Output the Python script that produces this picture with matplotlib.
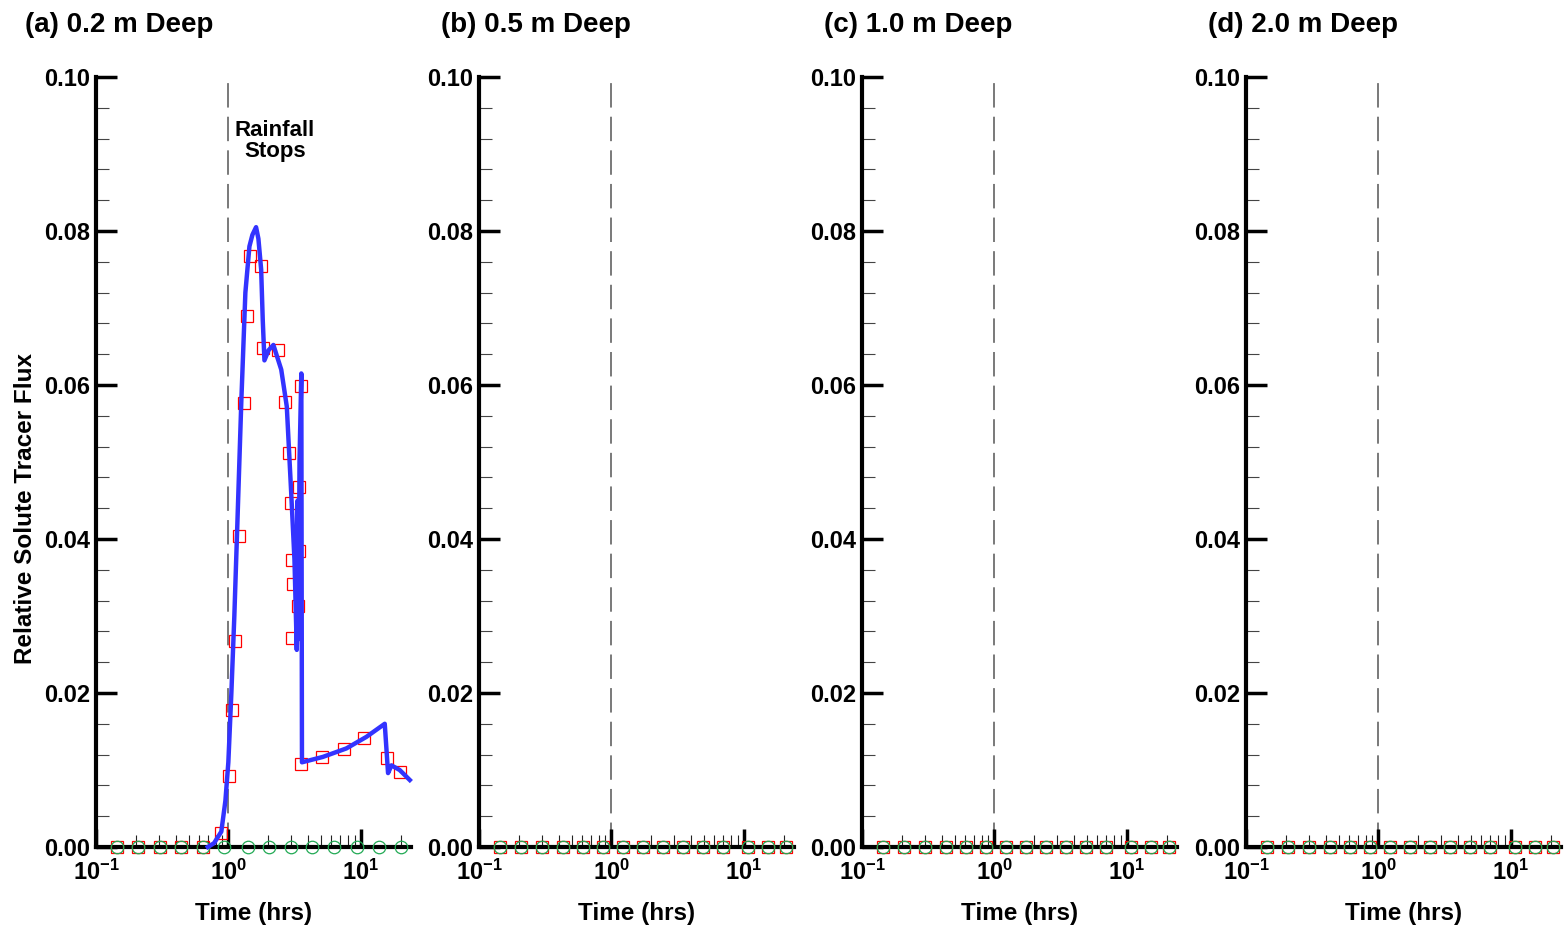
import numpy as np
import matplotlib
matplotlib.use("Agg")
import matplotlib.pyplot as plt
from matplotlib.ticker import FixedLocator, FixedFormatter, MultipleLocator

plt.rcParams['font.family'] = ['Liberation Sans', 'DejaVu Sans']
plt.rcParams['font.weight'] = 'bold'
plt.rcParams['mathtext.fontset'] = 'custom'
plt.rcParams['mathtext.bf'] = 'Liberation Sans:bold'
plt.rcParams['mathtext.rm'] = 'Liberation Sans:bold'

# titulos dos paineis
titles = ['(a) 0.2 m Deep', '(b) 0.5 m Deep', '(c) 1.0 m Deep', '(d) 2.0 m Deep']

# curva simulada (painel a)
t_line = [0.70, 0.78, 0.885, 0.95, 1.0, 1.054, 1.11, 1.17, 1.254, 1.345, 1.443, 1.52,
          1.62, 1.687, 1.77, 1.82, 1.874, 2.01, 2.19, 2.51, 2.765, 2.985, 3.16, 3.29,
          3.34, 3.39, 3.45, 3.56, 3.60, 5.18, 7.79, 11.04, 15.2, 16.1, 17.1, 19.7, 23.5]
v_line = [0.0, 0.0005, 0.002, 0.006, 0.011, 0.02, 0.03, 0.042, 0.058, 0.072, 0.078, 0.0795,
          0.0805, 0.079, 0.075, 0.0684, 0.0632, 0.0645, 0.0652, 0.062, 0.0572, 0.046, 0.0373,
          0.0256, 0.045, 0.027, 0.05, 0.0615, 0.011, 0.0117, 0.0128, 0.0143, 0.016, 0.0096,
          0.0106, 0.010, 0.0087]

# quadrados vermelhos (painel a)
t_sq_a = [0.1435, 0.208, 0.302, 0.44, 0.64, 0.88, 1.005, 1.06, 1.116, 1.197, 1.306, 1.385,
          1.468, 1.77, 1.82, 2.36, 2.70, 2.86, 2.985, 3.41, 3.56, 3.41, 3.02, 3.10, 3.35,
          3.04, 3.56, 5.09, 7.43, 10.6, 15.7, 19.7]
v_sq_a = [0.0, 0.0, 0.0, 0.0, 0.0, 0.0018, 0.0092, 0.0178, 0.0268, 0.0404, 0.0576, 0.069,
          0.0768, 0.0754, 0.0648, 0.0645, 0.0578, 0.0512, 0.0447, 0.0467, 0.0599, 0.0385,
          0.0373, 0.0341, 0.0313, 0.0272, 0.0108, 0.0117, 0.0127, 0.0142, 0.0116, 0.0098]

# circulos verdes (painel a)
t_circ_a = [0.1435, 0.208, 0.302, 0.44, 0.64, 0.92, 1.4, 2.04, 2.96, 4.3, 6.3, 9.4, 13.8, 20.0]
v_circ_a = [0.0] * len(t_circ_a)

# paineis b-d: tudo zero
t_zero = [0.1435, 0.209, 0.30, 0.432, 0.607, 0.86, 1.22, 1.73, 2.45, 3.47, 4.9, 7.0,
          10.7, 15.2, 21.0]
v_zero = [0.0] * len(t_zero)

fig = plt.figure(figsize=(15.66, 9.3), dpi=100)
lefts = [96, 479, 862, 1246]
W, H = 1566, 930
axes = []
for i in range(4):
    ax = fig.add_axes([lefts[i] / W, 1 - 847 / H, 315 / W, 770 / H])
    axes.append(ax)

    ax.set_xscale('log')
    ax.set_xlim(0.1, 24)
    ax.set_ylim(0, 0.10)

    ax.axvline(1.0, ymin=0, ymax=1, color='#555555', lw=1.1, dashes=(16, 6), zorder=1)

    if i == 0:
        ax.plot(t_sq_a, v_sq_a, 's', mfc='none', mec='red', ms=9, mew=0.9, clip_on=False, zorder=3)
        ax.plot(t_circ_a, v_circ_a, 'o', mfc='none', mec='#22aa55', ms=9, mew=0.9, clip_on=False, zorder=3)
        ax.plot(t_line, v_line, color='#3333ff', lw=3.2, zorder=4, clip_on=False)
        ax.text(2.25, 0.0917, 'Rainfall\nStops', ha='center', va='center', fontsize=16,
                fontweight='bold', linespacing=1.0)
        ax.set_ylabel('Relative Solute Tracer Flux', fontsize=17.5, fontweight='bold', va='center')
        ax.yaxis.set_label_coords(-0.225, 0.44)
    else:
        ax.plot(t_zero, v_zero, 's', mfc='none', mec='red', ms=9, mew=0.9, clip_on=False, zorder=3)
        ax.plot(t_zero, v_zero, 'o', mfc='none', mec='#22aa55', ms=9, mew=0.9, clip_on=False, zorder=3)

    for s in ['top', 'right']:
        ax.spines[s].set_visible(False)
    for s in ['left', 'bottom']:
        ax.spines[s].set_linewidth(3)
        ax.spines[s].set_zorder(2)

    ax.xaxis.set_major_locator(FixedLocator([0.1, 1, 10]))
    ax.xaxis.set_major_formatter(FixedFormatter([r'$\mathbf{10^{-1}}$', r'$\mathbf{10^{0}}$', r'$\mathbf{10^{1}}$']))
    minors = [k * 0.1 for k in range(2, 10)] + list(range(2, 10)) + [20]
    ax.xaxis.set_minor_locator(FixedLocator(minors))
    ax.xaxis.set_minor_formatter(FixedFormatter([''] * len(minors)))

    ax.yaxis.set_major_locator(MultipleLocator(0.02))
    ax.yaxis.set_minor_locator(MultipleLocator(0.004))
    ax.yaxis.set_major_formatter(plt.FormatStrFormatter('%.2f'))

    ax.tick_params(axis='x', which='major', direction='in', length=13, width=2.5, pad=9, labelsize=17)
    ax.tick_params(axis='x', which='minor', direction='in', length=9, width=0.8, color='#222222')
    ax.tick_params(axis='y', which='major', direction='in', length=15, width=2.5, pad=4, labelsize=17)
    ax.tick_params(axis='y', which='minor', direction='in', length=9, width=0.8, color='#444444')
    for lab in ax.get_xticklabels() + ax.get_yticklabels():
        lab.set_fontweight('bold')

    ax.set_xlabel('Time (hrs)', fontsize=17.5, fontweight='bold')
    ax.xaxis.set_label_coords(0.5, -(913 - 847) / 770)
    ax.xaxis.label.set_va('center')

title_x = [25, 441, 824, 1208]
for i in range(4):
    fig.text(title_x[i] / W, 1 - 25 / H, titles[i], ha='left', va='center', fontsize=20, fontweight='bold')

fig.savefig('out.png', dpi=100)
